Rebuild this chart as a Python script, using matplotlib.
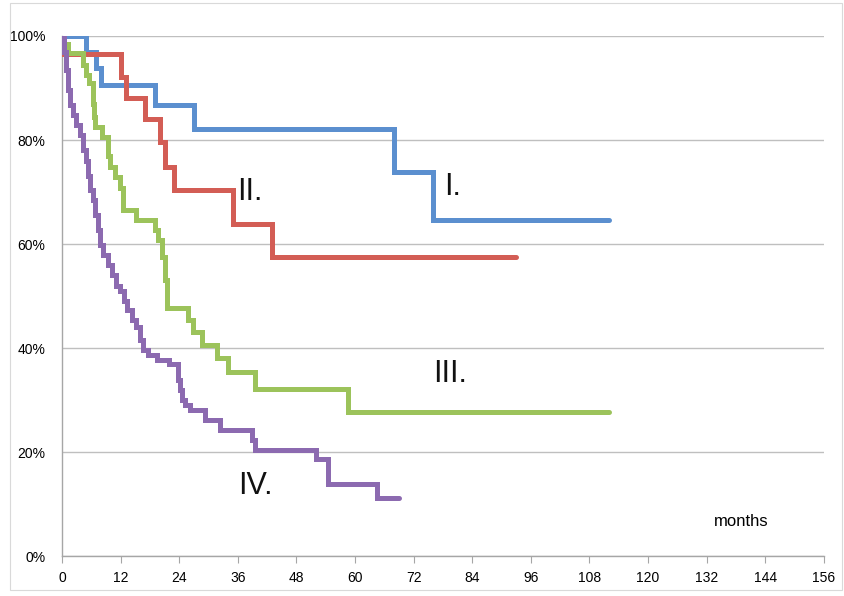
import matplotlib
matplotlib.use("Agg")
import matplotlib.pyplot as plt
from matplotlib.patches import Rectangle

# Kaplan-Meier style survival curves, stage I-IV
t_I = [0, 5, 7, 8, 19, 27, 68, 76, 112]
s_I = [100, 97.0, 93.9, 90.6, 86.7, 82.1, 73.8, 64.6, 64.6]

t_II = [0, 12, 13, 17, 20, 21, 23, 35, 43, 93]
s_II = [96.5, 92.1, 88.0, 84.0, 79.6, 74.8, 70.4, 63.8, 57.5, 57.5]

t_III = [0, 0.3, 1.2, 4.3, 5.0, 5.5, 6.3, 6.6, 6.8, 8.2, 9.4, 9.8, 10.8, 11.9,
         12.5, 15.1, 19.0, 19.7, 20.4, 21.1, 21.5, 25.8, 26.8, 28.7, 31.7, 34.0,
         39.5, 58.5, 112]
s_III = [100, 98.5, 96.7, 94.4, 92.5, 91.0, 87.0, 84.5, 82.5, 80.6, 77.0, 74.8,
         72.9, 70.8, 66.5, 64.6, 62.7, 60.8, 57.5, 53.0, 47.7, 45.4, 43.0, 40.6,
         38.0, 35.3, 32.1, 27.6, 27.6]

t_IV = [0, 0.4, 0.8, 1.2, 1.6, 2.3, 2.9, 3.7, 4.3, 4.9, 5.3, 5.7, 6.3, 6.8, 7.4,
        7.8, 8.4, 9.4, 10.2, 11.1, 11.9, 12.7, 13.3, 14.3, 15.1, 16.0, 16.6,
        17.6, 19.5, 22.0, 23.7, 24.2, 24.6, 25.2, 26.2, 29.3, 32.3, 38.9, 39.5,
        52.0, 54.5, 64.5, 69]
s_IV = [100, 97.0, 93.5, 89.6, 86.7, 84.8, 82.9, 81.0, 78.0, 76.0, 73.0, 70.4,
        68.5, 65.6, 62.7, 59.8, 57.9, 56.0, 54.0, 52.0, 51.0, 49.0, 47.3, 45.4,
        44.0, 41.5, 39.6, 38.7, 37.7, 37.0, 33.8, 32.0, 30.0, 29.0, 28.0, 26.2,
        24.2, 22.3, 20.4, 18.6, 13.8, 11.1, 11.1]

x_ticks = list(range(0, 157, 12))
y_ticks = [0, 20, 40, 60, 80, 100]

curves = [
    (t_I, s_I, '#5B8FCF', 'I.', 80, 71),
    (t_II, s_II, '#D35D55', 'II.', 38.5, 70),
    (t_III, s_III, '#9CC35B', 'III.', 79.5, 35),
    (t_IV, s_IV, '#8C6AB0', 'IV.', 39.5, 13.5),
]

fig = plt.figure(figsize=(8.45, 5.96), dpi=100)
ax = fig.add_axes([0.0734, 0.0671, 0.9016, 0.8725])

for t, s, color, label, lx, ly in curves:
    ax.step(t, s, where='post', color=color, lw=3.6,
            solid_joinstyle='miter', solid_capstyle='round', zorder=3)
    ax.text(lx, ly, label, fontsize=22, ha='center', va='center',
            color='#111111', family='Liberation Sans', zorder=4)

ax.text(139, 6.7, 'months', fontsize=12, ha='center', va='center',
        family='Liberation Sans')

ax.set_xlim(0, 156)
ax.set_ylim(0, 100)
ax.set_xticks(x_ticks)
ax.set_xticklabels([str(v) for v in x_ticks], fontsize=10, family='Liberation Sans')
ax.set_yticks(y_ticks)
ax.set_yticklabels(['%d%%' % v for v in y_ticks], fontsize=10, family='Liberation Sans')

ax.grid(axis='y', color='#BFBFBF', lw=1.0, zorder=0)
for side in ['top', 'right']:
    ax.spines[side].set_visible(False)
for side in ['left', 'bottom']:
    ax.spines[side].set_color('#A6A6A6')
    ax.spines[side].set_linewidth(1.0)
ax.tick_params(axis='x', direction='out', length=5, color='#A6A6A6', pad=6)
ax.tick_params(axis='y', length=0, pad=12)

# thin frame around the whole chart
fig.patches.append(Rectangle((0.012, 0.01), 0.985, 0.985, transform=fig.transFigure,
                             fill=False, edgecolor='#D9D9D9', lw=0.8))

fig.savefig('out.png', dpi=100)
